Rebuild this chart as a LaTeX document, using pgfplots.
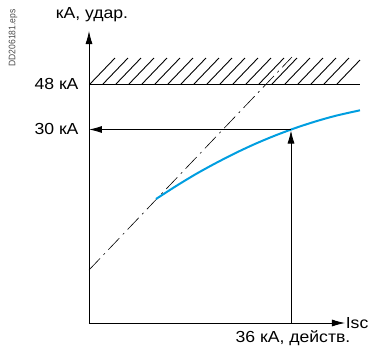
\documentclass[border=0pt]{standalone}
\usepackage{pgfplots}
\pgfplotsset{compat=1.18}
\usepackage{fontspec}
\setmainfont{Liberation Sans}[FakeStretch=1.1]
\newfontfamily\smallfont{Liberation Sans}[FakeStretch=0.9]
\usetikzlibrary{arrows.meta}
\definecolor{curveblue}{RGB}{0,158,224}
\begin{document}
\begin{tikzpicture}
\useasboundingbox (-89bp,-25bp) rectangle (280bp,323bp);
\begin{axis}[
  anchor=origin, at={(0,0)},
  x=1bp, y=1bp,
  xmin=0, xmax=256, ymin=0, ymax=292,
  axis lines=left,
  axis line style={line width=0.8bp, -{Latex[length=13bp,width=7bp]}},
  xtick=\empty, ytick=\empty,
  clip=false,
  font=\fontsize{16bp}{19bp}\selectfont,
]
% hatched limit zone
\addplot[black, line width=0.9bp, unbounded coords=jump] coordinates {
 (1,239)(26,265) (1,nan)
 (14,239)(39,265) (14,nan)
 (27,239)(52,265) (27,nan)
 (40,239)(65,265) (40,nan)
 (53,239)(78,265) (53,nan)
 (66,239)(91,265) (66,nan)
 (79,239)(104,265) (79,nan)
 (92,239)(117,265) (92,nan)
 (105,239)(130,265) (105,nan)
 (118,239)(143,265) (118,nan)
 (131,239)(156,265) (131,nan)
 (144,239)(169,265) (144,nan)
 (157,239)(182,265) (157,nan)
 (170,239)(195,265) (170,nan)
 (183,239)(208,265) (183,nan)
 (196,239)(221,265) (196,nan)
 (209,239)(234,265) (209,nan)
 (222,239)(247,265) (222,nan)
 (235,239)(260,265) (235,nan)
 (248,239)(271,263)
};
\addplot[black, line width=0.8bp] coordinates {(0,239) (271,239)};
% dash-dot asymptote
\addplot[black, line width=0.6bp, dash pattern=on 16bp off 5bp on 2bp off 5bp] coordinates {(0,53) (203,266)};
% blue curve
\addplot[curveblue, line width=2bp, smooth] coordinates {
 (67,124) (87,136.9) (107,149) (127,160) (147,170.2) (167,179.5) (187,187.8) (207,195.2) (227,201.7) (247,207.3) (271,212.7)};
% arrows
\addplot[black, line width=0.8bp, -{Latex[length=13bp,width=7bp]}] coordinates {(202,0) (202,192.5)};
\addplot[black, line width=0.8bp, -{Latex[length=13bp,width=7bp]}] coordinates {(202,193.5) (0,193.5)};
% labels
\node[anchor=south] at (axis cs:3,298) {кА, удар.};
\node[anchor=east] at (axis cs:-7,239) {48 кА};
\node[anchor=east] at (axis cs:-7,194) {30 кА};
\node[anchor=east, inner xsep=0.5bp] at (axis cs:280,0) {Isc};
\node[anchor=base, inner sep=0pt] at (axis cs:204,-19.5) {36 кА, действ.};
\node[rotate=90, anchor=center, text=gray!60!black, font=\smallfont\fontsize{9.5bp}{11bp}\selectfont] at (axis cs:-76,285) {DD206181.eps};
\end{axis}
\end{tikzpicture}
\end{document}
